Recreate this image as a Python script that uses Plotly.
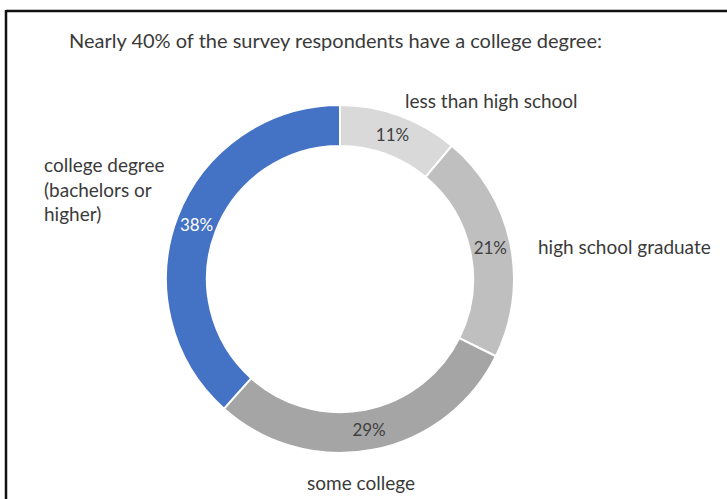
import plotly.graph_objects as go

# Education levels of survey respondents (share of respondents, %)
categories = ["less than high school", "high school graduate", "some college",
              "college degree<br>(bachelors or<br>higher)"]
values = [11, 21, 29, 38]
slice_colors = ["#d9d9d9", "#bfbfbf", "#a5a5a5", "#4472c4"]
value_text_colors = ["#404040", "#404040", "#404040", "#ffffff"]

title_text = "Nearly 40% of the survey respondents have a college degree:"

W, H = 727, 499
FONT = "Lato, Open Sans, sans-serif"
TXT = "#3a3a3a"


def px(x):
    return x / W


def py(y):
    return 1 - y / H


# Donut geometry (pixels): centre and outer radius
cx, cy, r = 340, 279, 174

fig = go.Figure(go.Pie(
    labels=categories,
    values=values,
    sort=False,
    direction="clockwise",
    rotation=0,
    hole=0.765,
    marker=dict(colors=slice_colors, line=dict(color="white", width=2)),
    texttemplate="%{value}%",
    textposition="inside",
    insidetextorientation="horizontal",
    textfont=dict(family=FONT, size=17, color=value_text_colors),
    domain=dict(x=[px(cx - r), px(cx + r)], y=[py(cy + r), py(cy - r)]),
    showlegend=False,
    hoverinfo="label+percent",
))

# Category labels placed around the ring
label_pos = [
    (403, 101, "left", "middle"),
    (536, 246, "left", "middle"),
    (361, 482, "center", "middle"),
    (42, 189, "left", "middle"),
]
annotations = []
for name, (x, y, xa, ya) in zip(categories, label_pos):
    annotations.append(dict(
        text=name, x=px(x), y=py(y), xref="paper", yref="paper",
        xanchor=xa, yanchor=ya, align="left", showarrow=False,
        font=dict(family=FONT, size=19, color=TXT),
    ))

annotations.append(dict(
    text=title_text, x=px(67), y=py(40), xref="paper", yref="paper",
    xanchor="left", yanchor="middle", showarrow=False,
    font=dict(family=FONT, size=20, color=TXT),
))

# Frame lines along the top and left edges
shapes = [
    dict(type="line", xref="paper", yref="paper", x0=px(6), x1=1.0,
         y0=py(11), y1=py(11), line=dict(color="#111111", width=2.5)),
    dict(type="line", xref="paper", yref="paper", x0=px(6), x1=px(6),
         y0=py(10), y1=0, line=dict(color="#111111", width=2.5)),
]

fig.update_layout(
    width=W, height=H,
    margin=dict(l=0, r=0, t=0, b=0),
    paper_bgcolor="white", plot_bgcolor="white",
    annotations=annotations,
    shapes=shapes,
)

fig.write_html("out.html")
